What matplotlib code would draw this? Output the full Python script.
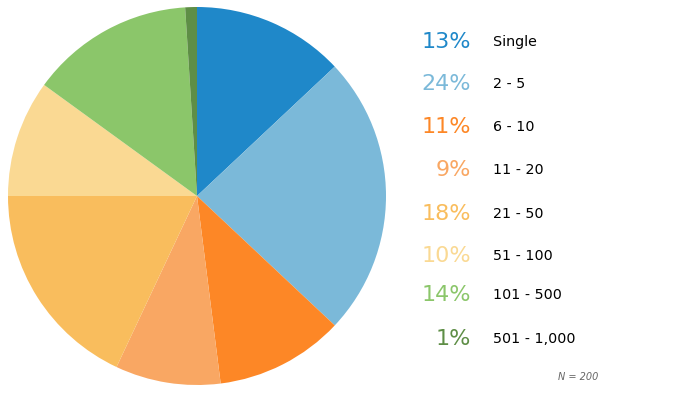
import matplotlib
matplotlib.use("Agg")
import matplotlib.pyplot as plt

categories = ["Single", "2 - 5", "6 - 10", "11 - 20", "21 - 50", "51 - 100", "101 - 500", "501 - 1,000"]
values = [13, 24, 11, 9, 18, 10, 14, 1]
colors = ["#1f88c9", "#7bb9d9", "#fd8726", "#f9a763", "#f9bd5d", "#fad993", "#8bc66a", "#5e8e46"]
note = "N = 200"

plt.rcParams['font.family'] = ['DejaVu Sans']
fig = plt.figure(figsize=(6.75, 4.06), dpi=100)
W, H = 675, 406
ax = fig.add_axes([8 / W, (H - 386) / H, 378 / W, 378 / H])
ax.pie(values, colors=colors, startangle=90, counterclock=False, radius=1,
       wedgeprops=dict(linewidth=0))
ax.set_xlim(-1, 1)
ax.set_ylim(-1, 1)
ax.set_aspect('equal')
ax.axis('off')

ys = [42, 84, 127, 170, 214, 256, 295, 339]
for v, c, lab, y in zip(values, colors, categories, ys):
    fig.text(471 / W, 1 - y / H, f"{v}%", color=c, fontsize=16, ha='right', va='center')
    fig.text(493 / W, 1 - y / H, lab, color='black', fontsize=10.3, ha='left', va='center')

fig.text(578 / W, 1 - 377 / H, note, color='#666666', fontsize=7, style='italic', ha='center', va='center')

fig.savefig("out.png", dpi=100)
